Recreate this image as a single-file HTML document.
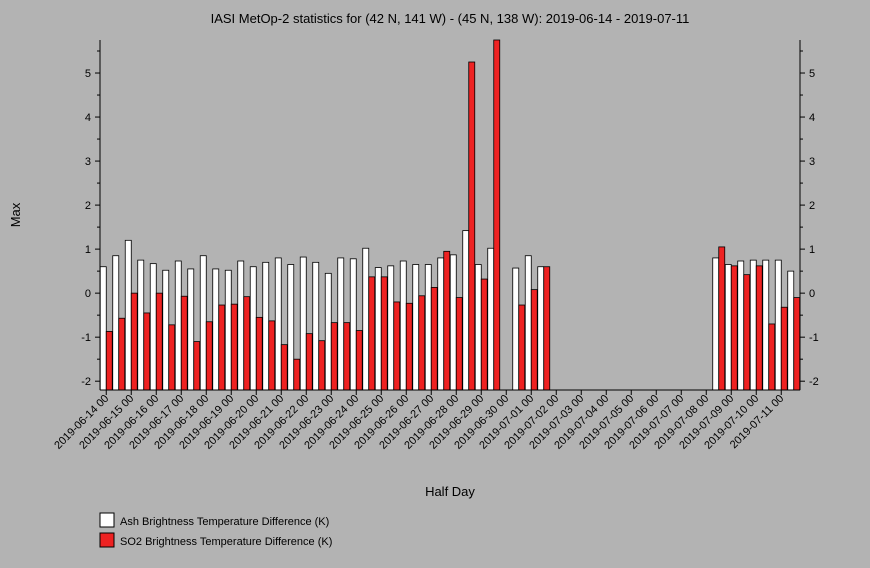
<!DOCTYPE html>
<html><head><meta charset="utf-8"><style>
body{margin:0;background:#b3b3b3;font-family:"Liberation Sans",sans-serif;}
svg text{font-family:"Liberation Sans",sans-serif;fill:#000;}
</style></head><body>
<svg id="chart" width="870" height="563" xmlns="http://www.w3.org/2000/svg">
<rect width="870" height="563" fill="#b3b3b3"/>
<text x="450" y="23" font-size="13" text-anchor="middle">IASI MetOp-2 statistics for (42 N, 141 W) - (45 N, 138 W): 2019-06-14 - 2019-07-11</text>
<text x="20" y="215" font-size="13" text-anchor="middle" transform="rotate(-90 20 215)">Max</text>
<text x="450" y="496" font-size="13" text-anchor="middle">Half Day</text>
<g id="bars"></g><g id="axes"></g>
<g>
<rect x="100" y="513" width="14" height="14" fill="#fff" stroke="#000"/>
<text x="120" y="525" font-size="11">Ash Brightness Temperature Difference (K)</text>
<rect x="100" y="533" width="14" height="14" fill="#ee2222" stroke="#000"/>
<text x="120" y="545" font-size="11">SO2 Brightness Temperature Difference (K)</text>
</g>
</svg>
<script>
const dayLabels=["2019-06-14 00","2019-06-15 00","2019-06-16 00","2019-06-17 00","2019-06-18 00","2019-06-19 00","2019-06-20 00","2019-06-21 00","2019-06-22 00","2019-06-23 00","2019-06-24 00","2019-06-25 00","2019-06-26 00","2019-06-27 00","2019-06-28 00","2019-06-29 00","2019-06-30 00","2019-07-01 00","2019-07-02 00","2019-07-03 00","2019-07-04 00","2019-07-05 00","2019-07-06 00","2019-07-07 00","2019-07-08 00","2019-07-09 00","2019-07-10 00","2019-07-11 00"];
const ashValues=[0.6,0.85,1.2,0.75,0.67,0.52,0.73,0.55,0.85,0.55,0.52,0.73,0.6,0.7,0.8,0.65,0.82,0.7,0.45,0.8,0.78,1.02,0.58,0.62,0.73,0.65,0.65,0.8,0.87,1.42,0.65,1.02,null,0.57,0.85,0.6,null,null,null,null,null,null,null,null,null,null,null,null,null,0.8,0.65,0.73,0.75,0.75,0.75,0.5];
const so2Values=[-0.87,-0.57,0.0,-0.45,0.0,-0.72,-0.07,-1.1,-0.65,-0.27,-0.25,-0.08,-0.55,-0.63,-1.17,-1.5,-0.92,-1.08,-0.67,-0.67,-0.85,0.37,0.37,-0.2,-0.23,-0.06,0.13,0.95,-0.1,5.25,0.32,5.75,null,-0.27,0.08,0.6,null,null,null,null,null,null,null,null,null,null,null,null,null,1.05,0.62,0.42,0.62,-0.7,-0.32,-0.1];
const yTicks=[-2,-1,0,1,2,3,4,5];
const X0=100,X1=800,Y0=40,Y1=390,yMin=-2.2,yMax=5.75,N=56;
const slotW=(X1-X0)/N;
const y=v=>Y1-(v-yMin)/(yMax-yMin)*(Y1-Y0);
const xc=i=>X0+slotW*(i+0.5);
const NS="http://www.w3.org/2000/svg";
function mk(t,a,p){const e=document.createElementNS(NS,t);for(const k in a)e.setAttribute(k,a[k]);p.appendChild(e);return e;}
const bars=document.getElementById('bars'),axes=document.getElementById('axes');
for(let i=0;i<N;i++){
 if(ashValues[i]!==null){const r=mk('rect',{x:xc(i)-6,y:y(ashValues[i]),width:6,height:Y1-y(ashValues[i]),fill:'#fff',stroke:'#000','stroke-width':0.8},bars);
 
 }
 if(so2Values[i]!==null){const r=mk('rect',{x:xc(i),y:y(so2Values[i]),width:6,height:Y1-y(so2Values[i]),fill:'#ee2222',stroke:'#000','stroke-width':0.8},bars);
 
 }
}
mk('line',{x1:X0,y1:Y0,x2:X0,y2:Y1,stroke:'#000'},axes);
mk('line',{x1:X1,y1:Y0,x2:X1,y2:Y1,stroke:'#000'},axes);
mk('line',{x1:X0,y1:Y1,x2:X1,y2:Y1,stroke:'#000'},axes);
for(let v=-2;v<=5.5;v+=0.5){const yy=y(v),big=Number.isInteger(v);
 mk('line',{x1:X0-(big?5:3),y1:yy,x2:X0,y2:yy,stroke:'#000'},axes);
 mk('line',{x1:X1,y1:yy,x2:X1+(big?5:3),y2:yy,stroke:'#000'},axes);}
yTicks.forEach(v=>{
 const t=mk('text',{x:X0-9,y:y(v)+4,'font-size':11,'text-anchor':'end'},axes);t.textContent=v;
 
 
 const t2=mk('text',{x:X1+9,y:y(v)+4,'font-size':11},axes);t2.textContent=v;
 
 
});
dayLabels.forEach((l,d)=>{
 const xx=X0+slotW*(2*d)+slotW*0.5;
 mk('line',{x1:xx,y1:Y1,x2:xx,y2:Y1+5,stroke:'#000'},axes);
 const t=mk('text',{x:xx+3,y:Y1+9,'font-size':11,'text-anchor':'end',transform:`rotate(-45 ${xx+3} ${Y1+9})`},axes);t.textContent=l;
 
 
});
</script>
</body></html>
